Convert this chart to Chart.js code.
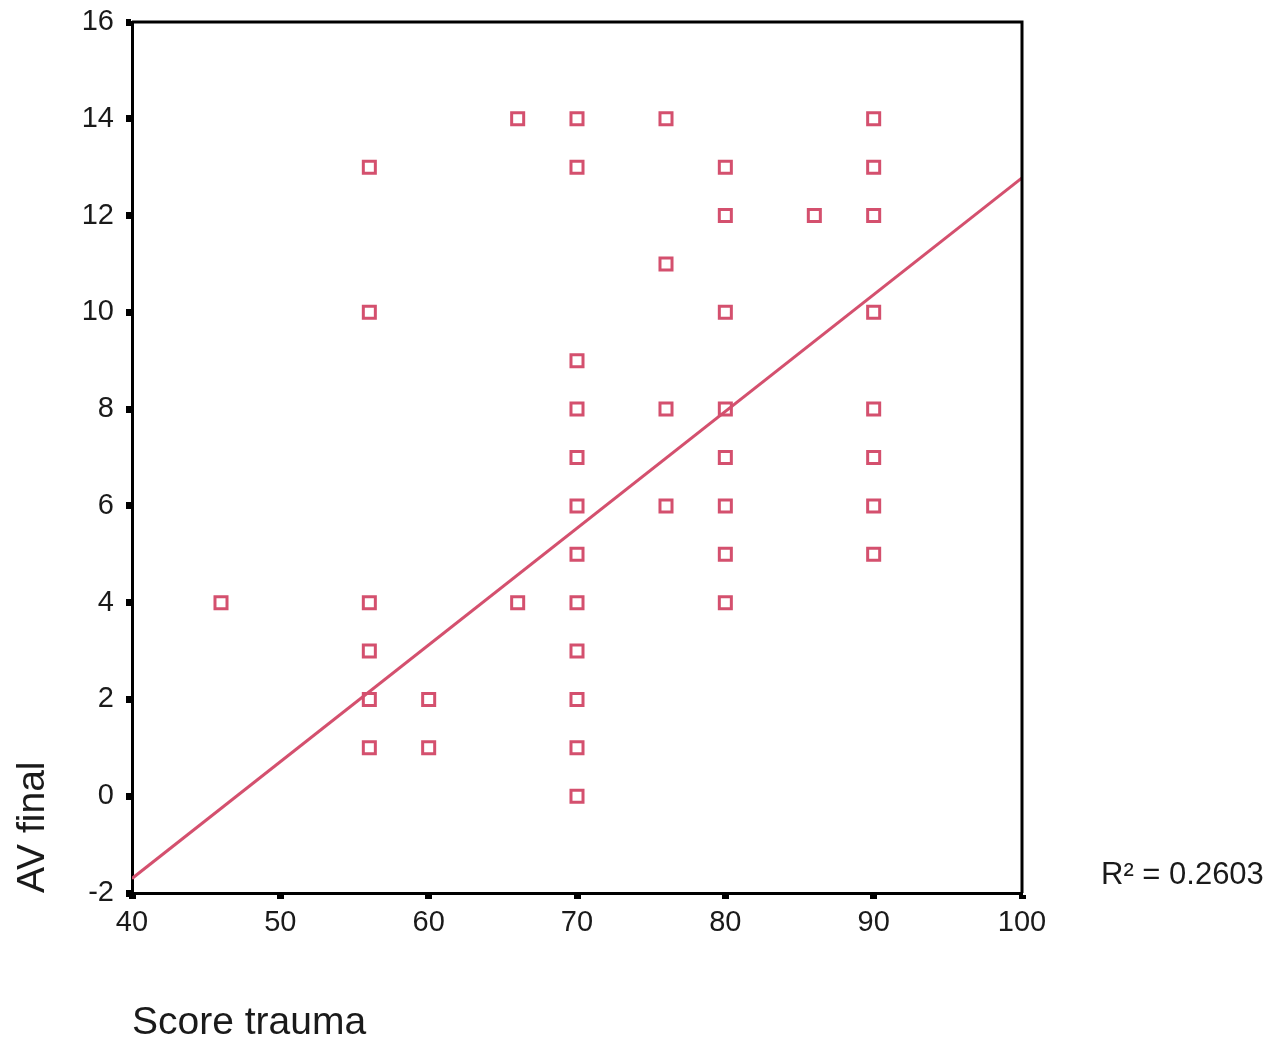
<!DOCTYPE html>
<html lang="en">
<head>
  <meta charset="UTF-8">
  <title>AV final vs Score trauma</title>
  <style>
    body {
      margin: 0;
      padding: 0;
      background-color: #fff;
    }
  </style>
  <script src="https://cdn.jsdelivr.net/npm/chart.js"></script>
</head>
<body>
  <canvas id="scatterChart" width="1282" height="1049"></canvas>

  <script>
    // Score trauma (x) / AV final (y)
    const scoreTrauma = [
      46,
      56, 56, 56, 56, 56, 56,
      60, 60,
      66, 66,
      70, 70, 70, 70, 70, 70, 70, 70, 70, 70, 70, 70,
      76, 76, 76, 76,
      80, 80, 80, 80, 80, 80, 80, 80,
      86,
      90, 90, 90, 90, 90, 90, 90, 90
    ];
    const avFinal = [
      4,
      13, 10, 4, 3, 2, 1,
      2, 1,
      14, 4,
      14, 13, 9, 8, 7, 6, 5, 4, 3, 2, 1, 0,
      14, 11, 8, 6,
      13, 12, 10, 8, 7, 6, 5, 4,
      12,
      14, 13, 12, 10, 8, 7, 6, 5
    ];

    // fitted line ends as drawn
    const fitX = [40, 100];
    const fitY = [-1.7, 12.78];
    const rSquared = 'R² = 0.2603';

    const pink = '#d4506e';
    const font = 'Arial, "Liberation Sans", sans-serif';

    const points = scoreTrauma.map((x, i) => ({ x, y: avFinal[i] }));
    const fitLine = fitX.map((x, i) => ({ x, y: fitY[i] }));

    // box frame on top/right plus the R² note
    const framePlugin = {
      id: 'frame',
      afterDraw(chart) {
        const { ctx, chartArea } = chart;
        ctx.save();
        ctx.strokeStyle = '#000';
        ctx.lineWidth = 3;
        ctx.beginPath();
        ctx.moveTo(chartArea.left, chartArea.top);
        ctx.lineTo(chartArea.right, chartArea.top);
        ctx.lineTo(chartArea.right, chartArea.bottom);
        ctx.stroke();
        ctx.fillStyle = '#1a1a1a';
        ctx.font = '31px ' + font;
        ctx.textAlign = 'left';
        ctx.textBaseline = 'middle';
        ctx.fillText(rSquared, 1101, 875);
        ctx.restore();
      }
    };

    const ctx = document.getElementById('scatterChart').getContext('2d');
    new Chart(ctx, {
      type: 'scatter',
      data: {
        datasets: [
          {
            label: 'AV final',
            data: points,
            pointStyle: 'rect',
            pointRadius: 8.5,
            pointBorderWidth: 3,
            pointBorderColor: pink,
            pointBackgroundColor: 'rgba(0,0,0,0)',
            order: 2
          },
          {
            type: 'line',
            label: 'Fit',
            data: fitLine,
            borderColor: pink,
            borderWidth: 3,
            pointRadius: 0,
            fill: false,
            order: 1
          }
        ]
      },
      options: {
        responsive: false,
        animation: false,
        layout: {
          padding: { top: 22, right: 260, bottom: 0, left: 10 }
        },
        plugins: {
          legend: { display: false },
          tooltip: { enabled: false }
        },
        scales: {
          x: {
            type: 'linear',
            min: 40,
            max: 100,
            afterFit(scale) { scale.height = 156; },
            ticks: {
              stepSize: 10,
              color: '#1a1a1a',
              padding: 7,
              font: { family: font, size: 29 }
            },
            grid: {
              drawOnChartArea: false,
              tickLength: 6,
              tickWidth: 7,
              tickColor: '#000'
            },
            border: { color: '#000', width: 3 },
            title: {
              display: true,
              text: 'Score trauma',
              align: 'start',
              color: '#1a1a1a',
              font: { family: font, size: 39 },
              padding: { top: 0, bottom: 2 }
            }
          },
          y: {
            type: 'linear',
            min: -2,
            max: 16,
            afterFit(scale) {
              scale.width = 122;
              scale.paddingTop = 0;
              scale.paddingBottom = 0;
            },
            ticks: {
              stepSize: 2,
              color: '#1a1a1a',
              padding: 12,
              font: { family: font, size: 29 }
            },
            grid: {
              drawOnChartArea: false,
              tickLength: 6,
              tickWidth: 7,
              tickColor: '#000'
            },
            border: { color: '#000', width: 3 },
            title: {
              display: true,
              text: 'AV final',
              align: 'start',
              color: '#1a1a1a',
              font: { family: font, size: 39 },
              padding: { top: 0, bottom: 0 }
            }
          }
        }
      },
      plugins: [framePlugin]
    });
  </script>
</body>
</html>
